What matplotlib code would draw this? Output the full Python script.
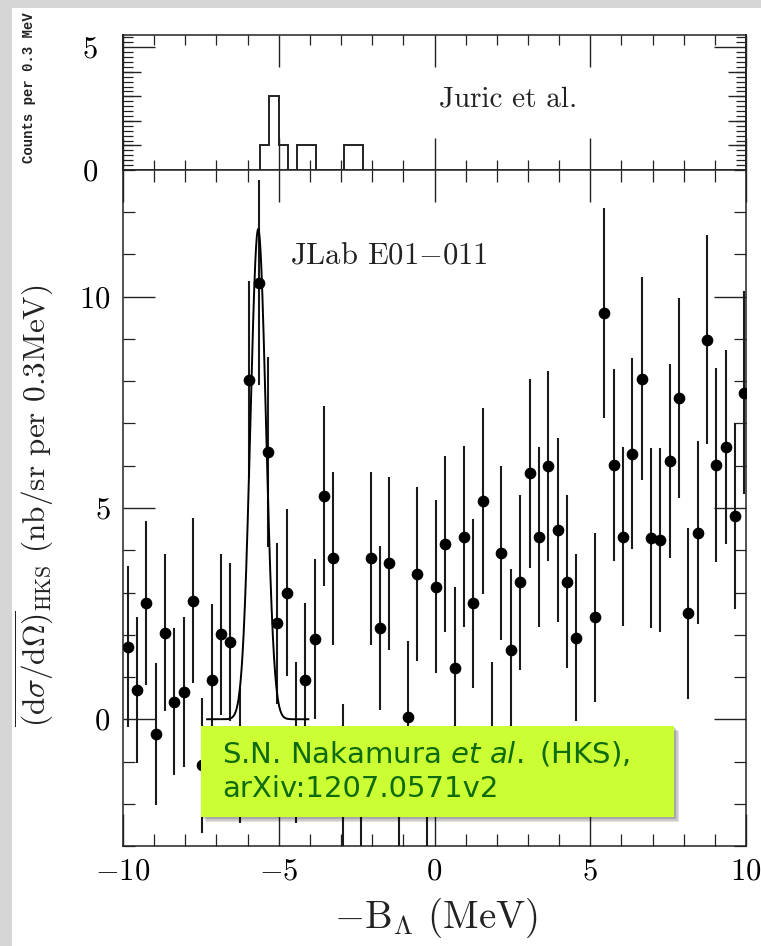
import numpy as np
import matplotlib
matplotlib.use("Agg")
import matplotlib.pyplot as plt
from matplotlib.patches import Rectangle
from matplotlib.ticker import MultipleLocator, FixedLocator, NullFormatter

plt.rcParams['font.family'] = ['cmr10']
plt.rcParams['mathtext.fontset'] = 'cm'
plt.rcParams['axes.formatter.use_mathtext'] = True

# ---------------- data ----------------
# HKS (JLab E01-011) points
x_hks = [-9.85, -9.55, -9.25, -8.95, -8.65, -8.35, -8.05, -7.75, -7.45, -7.15,
         -6.85, -6.55, -6.25, -5.95, -5.65, -5.35, -5.05, -4.75, -4.45, -4.15,
         -3.85, -3.55, -3.25, -2.95, -2.35, -2.05, -1.75, -1.45, -1.15, -0.85,
         -0.55, -0.25, 0.05, 0.35, 0.65, 0.95, 1.25, 1.55, 1.85, 2.15,
         2.45, 2.75, 3.05, 3.35, 3.65, 3.95, 4.25, 4.55, 5.15, 5.45,
         5.75, 6.05, 6.35, 6.65, 6.95, 7.25, 7.55, 7.85, 8.15, 8.45,
         8.75, 9.05, 9.35, 9.65, 9.95]
y_hks = [1.72, 0.69, 2.76, -0.36, 2.05, 0.42, 0.65, 2.81, -1.09, 0.93,
         2.01, 1.83, -0.85, 8.04, 10.33, 6.33, 2.27, 3.00, -0.55, 0.93,
         1.90, 5.28, 3.81, -1.60, -2.10, 3.81, 2.16, 3.69, -2.00, 0.05,
         3.44, -2.00, 3.14, 4.15, 1.22, 4.32, 2.75, 5.16, -0.40, 3.93,
         1.63, 3.24, 5.82, 4.32, 6.00, 4.48, 3.26, 1.93, 2.41, 9.62,
         6.02, 4.32, 6.28, 8.06, 4.30, 4.25, 6.12, 7.60, 2.51, 4.42,
         8.98, 6.02, 6.44, 4.82, 7.73]
e_hks = [1.90, 1.72, 1.94, 1.68, 1.86, 1.74, 1.77, 1.95, 1.60, 1.80,
         1.90, 1.87, 1.60, 2.34, 2.43, 2.25, 1.90, 1.98, 1.90, 1.83,
         1.90, 2.13, 2.05, 1.95, 1.80, 2.05, 1.95, 2.05, 1.80, 1.80,
         2.06, 1.80, 2.04, 2.08, 1.90, 2.14, 2.00, 2.20, 1.75, 2.06,
         1.93, 2.07, 2.23, 2.13, 2.25, 2.18, 2.05, 1.97, 2.00, 2.48,
         2.27, 2.12, 2.26, 2.40, 2.13, 2.18, 2.30, 2.37, 2.02, 2.17,
         2.47, 2.30, 2.30, 2.20, 2.40]

# Gaussian fit parameters
fit_center = -5.66
fit_sigma = 0.25
fit_amp = 11.6
fit_range = (-7.3, -4.05)

# Juric et al. histogram (counts per 0.3 MeV)
juric_edges = [-5.6, -5.3, -5.0, -4.7, -4.4, -4.1, -3.8, -3.5, -3.2, -2.9, -2.6, -2.3]
juric_counts = [1, 3, 1, 0, 1, 1, 0, 0, 0, 1, 1]

# ---------------- figure ----------------
W, H = 761, 946
fig = plt.figure(figsize=(W / 100, H / 100), dpi=100)
fig.patch.set_facecolor('white')

# gray frame (slide border)
fig.patches.append(Rectangle((0, 1 - 8 / H), 1, 8 / H, transform=fig.transFigure,
                             facecolor='#d6d6d6', edgecolor='none', zorder=-10))
fig.patches.append(Rectangle((0, 0), 12 / W, 1, transform=fig.transFigure,
                             facecolor='#d6d6d6', edgecolor='none', zorder=-10))

L, R = 123, 746
T_top, B_top = 35, 170
B_bot = 846
ax_top = fig.add_axes([L / W, 1 - B_top / H, (R - L) / W, (B_top - T_top) / H])
ax = fig.add_axes([L / W, 1 - B_bot / H, (R - L) / W, (B_bot - B_top) / H])

for a in (ax, ax_top):
    for s in a.spines.values():
        s.set_linewidth(1.1)
        s.set_color('#222222')

# ---- top panel ----
ax_top.stairs(juric_counts, juric_edges, baseline=0, color='#222222', linewidth=1.4)
ax_top.set_xlim(-10, 10)
ax_top.set_ylim(0, 5.5)
ax_top.xaxis.set_major_locator(MultipleLocator(5))
ax_top.xaxis.set_minor_locator(MultipleLocator(1))
ax_top.xaxis.set_major_formatter(NullFormatter())
ax_top.yaxis.set_major_locator(FixedLocator([0, 5]))
ax_top.yaxis.set_minor_locator(MultipleLocator(0.2))
ax_top.tick_params(which='major', direction='in', length=23, width=1.0,
                   top=True, right=True, labelsize=22, pad=18, color='#222222')
ax_top.tick_params(which='minor', direction='in', length=7, width=0.9,
                   top=True, right=True, color='#222222')
for side in ('left', 'right'):
    sec = ax_top.secondary_yaxis(side)
    sec.yaxis.set_major_locator(FixedLocator([1, 2, 3, 4]))
    sec.yaxis.set_major_formatter(NullFormatter())
    sec.tick_params(direction='in', length=13, width=1.0, color='#222222')
    sec.spines[side].set_linewidth(1.1)
ax_top.text(2.36, 2.89, 'Juric et al.', fontsize=21, ha='center', va='center',
            color='#222222')

# ---- bottom panel ----
ax.errorbar(x_hks, y_hks, yerr=e_hks, fmt='o', color='black', ecolor='#1a1a1a',
            elinewidth=1.5, markersize=7.4, capsize=0, zorder=3)
xf = np.linspace(fit_range[0], fit_range[1], 400)
yf = fit_amp * np.exp(-0.5 * ((xf - fit_center) / fit_sigma) ** 2)
ax.plot(xf, yf, color='black', linewidth=1.4, zorder=4)

ax.set_xlim(-10, 10)
ax.set_ylim(-3, 13)
ax.xaxis.set_major_locator(MultipleLocator(5))
ax.xaxis.set_minor_locator(MultipleLocator(1))
ax.yaxis.set_major_locator(FixedLocator([0, 5, 10]))
ax.yaxis.set_minor_locator(MultipleLocator(1))
ax.tick_params(which='major', direction='in', length=23, width=1.0,
               top=True, right=True, labelsize=22, pad=9, color='#222222')
ax.tick_params(which='minor', direction='in', length=8.6, width=0.9,
               top=True, right=True, color='#222222')
ax.text(-1.46, 10.97, r'JLab E01$-$011', fontsize=22, ha='center', va='center',
        color='#222222')

# axis labels
fig.text(436 / W, 1 - 918 / H, r'$-\mathrm{B}_{\Lambda}$ (MeV)', fontsize=28,
         ha='center', va='center', color='#222222')
fig.text(34 / W, 1 - 506 / H,
         r'$\overline{(\mathrm{d}\sigma/\mathrm{d}\Omega)}_{\mathrm{HKS}}$ (nb/sr per 0.3MeV)',
         fontsize=22.5, rotation=90, ha='center', va='center', color='#222222')
fig.text(29 / W, 1 - 88 / H, 'Counts per 0.3 MeV', family='Liberation Mono',
         fontweight='bold', fontsize=10, rotation=90, ha='center', va='center',
         color='#222222')

# annotation box
bx0, bx1 = (201 - L) / (R - L), (674 - L) / (R - L)
by0, by1 = (B_bot - 817) / (B_bot - B_top), (B_bot - 726) / (B_bot - B_top)
for i, alpha in enumerate([0.10, 0.12, 0.16]):
    off = (5 - i * 1.5)
    ax.add_patch(Rectangle((bx0 + off / 623, by0 - off / 676), bx1 - bx0, by1 - by0,
                           transform=ax.transAxes, facecolor='black', alpha=alpha,
                           edgecolor='none', zorder=9, clip_on=False))
ax.add_patch(Rectangle((bx0, by0), bx1 - bx0, by1 - by0, transform=ax.transAxes,
                       facecolor='#ccff33', edgecolor='none', zorder=10, clip_on=False))
ax.text((222 - L) / (R - L), (by0 + by1) / 2,
        'S.N. Nakamura $\\it{et\\ al.}$ (HKS),\narXiv:1207.0571v2',
        transform=ax.transAxes, family='DejaVu Sans', math_fontfamily='dejavusans',
        fontsize=21, color='#0e6b0e', ha='left', va='center', linespacing=1.3,
        zorder=11)

fig.savefig('out.png', dpi=100)
